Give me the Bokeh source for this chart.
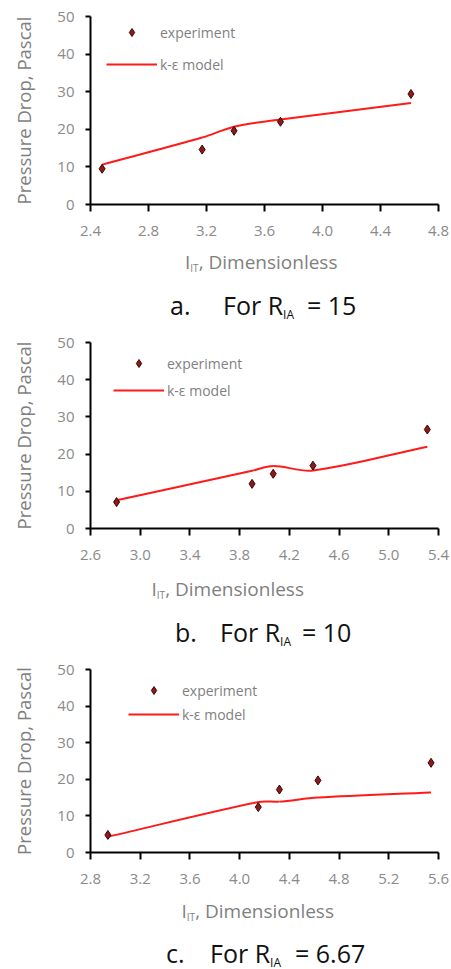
from bokeh.plotting import figure
from bokeh.layouts import column
from bokeh.models import (Legend, LegendItem, FixedTicker, Div,
                          PrintfTickFormatter, Range1d)
from bokeh.embed import file_html
from bokeh.resources import INLINE

# ---------------- data ----------------
x_a = [2.48, 3.17, 3.39, 3.71, 4.61]
exp_a = [9.5, 14.6, 19.6, 22.0, 29.4]
model_a = [10.6, 17.8, 20.7, 22.6, 27.0]
xticks_a = [2.4, 2.8, 3.2, 3.6, 4.0, 4.4, 4.8]

x_b = [2.81, 3.90, 4.07, 4.39, 5.31]
exp_b = [7.1, 12.0, 14.7, 16.9, 26.6]
model_b = [7.6, 15.5, 16.8, 15.6, 22.0]
xticks_b = [2.6, 3.0, 3.4, 3.8, 4.2, 4.6, 5.0, 5.4]

x_c = [2.94, 4.15, 4.32, 4.63, 5.54]
exp_c = [4.8, 12.4, 17.2, 19.7, 24.5]
model_c = [4.3, 13.8, 13.9, 15.0, 16.4]
xticks_c = [2.8, 3.2, 3.6, 4.0, 4.4, 4.8, 5.2, 5.6]

yticks = [0, 10, 20, 30, 40, 50]
letters = ["a.", "b.", "c."]
ratios = ["15", "10", "6.67"]
legend_labels = ["experiment", "k-\u03b5 model"]
y_title = "Pressure Drop, Pascal"
x_title_html = "I<sub>IT</sub>, Dimensionless"
caption_html = "For R<sub>IA</sub>"

# ---------------- layout / style ----------------
W, H = 451, 323          # each panel block
L, R = 90, 438           # shared frame left / right (column aligns frames)
BOT = 42                 # room for x tick labels under each frame
FONT = "Open Sans"
GREY = "#7f7f7f"
panels = [
    dict(x=x_a, e=exp_a, m=model_a, t=xticks_a, T=16, B=204,
         xt=(185, 270), cap=(170, 223, 307, 315), leg=(106, 32, 32)),
    dict(x=x_b, e=exp_b, m=model_b, t=xticks_b, T=19, B=205,
         xt=(151.5, 274), cap=(175, 220, 302, 319), leg=(113, 40, 27)),
    dict(x=x_c, e=exp_c, m=model_c, t=xticks_c, T=23, B=206,
         xt=(181.5, 273), cap=(166, 210, 295, 317), leg=(128, 44, 24)),
]


def smooth_bezier(xs, ys):
    """Cubic Hermite (in x) pieces as Bezier control points: a smoothed line
    drawn through the given model points."""
    n = len(xs)
    slopes = []
    for i in range(n):
        i0, i1 = max(i - 1, 0), min(i + 1, n - 1)
        slopes.append((ys[i1] - ys[i0]) / (xs[i1] - xs[i0]))
    out = {k: [] for k in ("x0", "y0", "x1", "y1", "cx0", "cy0", "cx1", "cy1")}
    for i in range(n - 1):
        d = (xs[i + 1] - xs[i]) / 3
        out["x0"].append(xs[i]); out["y0"].append(ys[i])
        out["x1"].append(xs[i + 1]); out["y1"].append(ys[i + 1])
        out["cx0"].append(xs[i] + d)
        out["cy0"].append(ys[i] + slopes[i] * d)
        out["cx1"].append(xs[i + 1] - d)
        out["cy1"].append(ys[i + 1] - slopes[i + 1] * d)
    return out


def span(x, baseline, html, size, color):
    top = baseline - 0.888 * size
    return (f'<span style="position:absolute;left:{x}px;top:{top:.1f}px;'
            f"font-family:'{FONT}';font-size:{size}px;line-height:1;"
            f'color:{color};white-space:nowrap">{html}</span>')


items = []
for k, cfg in enumerate(panels):
    Hp = cfg["B"] + BOT
    p = figure(width=W, height=Hp, output_backend="svg", toolbar_location=None,
               x_range=Range1d(cfg["t"][0], cfg["t"][-1]),
               y_range=Range1d(0, 50),
               min_border_left=L, min_border_right=W - R,
               min_border_top=cfg["T"], min_border_bottom=BOT)
    p.outline_line_color = None
    p.grid.visible = False
    p.background_fill_color = "white"
    p.border_fill_color = "white"

    p.xaxis.ticker = FixedTicker(ticks=cfg["t"])
    p.yaxis.ticker = FixedTicker(ticks=yticks)
    p.xaxis.formatter = PrintfTickFormatter(format="%.1f")
    for ax in (p.xaxis, p.yaxis):
        ax.axis_line_width = 2
        ax.axis_line_color = "black"
        ax.major_tick_line_width = 2
        ax.major_tick_line_color = "black"
        ax.major_tick_in = 0
        ax.minor_tick_out = 0
        ax.minor_tick_in = 0
        ax.major_label_text_font = FONT
        ax.major_label_text_font_size = "15px"
        ax.major_label_text_color = "#8a8a8a"
    p.xaxis.major_tick_out = 7
    p.yaxis.major_tick_out = 5
    p.xaxis.major_label_standoff = 14
    p.yaxis.major_label_standoff = 11
    p.yaxis.axis_label = y_title
    p.yaxis.axis_label_text_font = FONT
    p.yaxis.axis_label_text_font_size = "18.5px"
    p.yaxis.axis_label_text_font_style = "normal"
    p.yaxis.axis_label_text_color = GREY
    p.yaxis.axis_label_standoff = 18

    bz = smooth_bezier(cfg["x"], cfg["m"])
    r_model = p.bezier(line_color="#ff1a1a", line_width=2, **bz)
    r_exp = p.scatter(cfg["x"], cfg["e"], marker="diamond", size=9,
                      fill_color="#8b1a1a", line_color="#3d0505",
                      line_width=1)

    gl, r1y, gap = cfg["leg"]
    row_h = 20
    top = r1y - row_h // 2
    bottom = top + row_h + gap
    leg = Legend(items=[LegendItem(label=legend_labels[0], renderers=[r_exp]),
                        LegendItem(label=legend_labels[1], renderers=[r_model])],
                 location=(gl - L, cfg["B"] - bottom),
                 glyph_width=51, glyph_height=row_h, label_height=row_h,
                 label_standoff=3, padding=0, margin=0, spacing=gap - row_h,
                 border_line_color=None, background_fill_alpha=0,
                 label_text_font=FONT, label_text_font_size="14px",
                 label_text_color=GREY)
    p.add_layout(leg, "center")
    items.append(p)

    # text block under the plot: x title (with subscript) and caption
    Ht = H - Hp
    xi, xb = cfg["xt"]
    cl, cf, ce, cb = cfg["cap"]
    sub_x = '<sub style="font-size:10px;vertical-align:-3px;line-height:0">'
    sub_c = '<sub style="font-size:12px;vertical-align:-4px;line-height:0">'
    html = ('<div style="position:relative;width:%dpx;height:%dpx;'
            'background:white">' % (W, Ht))
    html += span(xi, xb - Hp, x_title_html.replace("<sub>", sub_x), 19, GREY)
    html += span(cl, cb - Hp, letters[k], 25, "#111111")
    html += span(cf, cb - Hp, caption_html.replace("<sub>", sub_c), 25, "#111111")
    html += span(ce, cb - Hp, "= " + ratios[k], 25, "#111111")
    html += "</div>"
    items.append(Div(text=html, width=W, height=Ht, margin=(0, 0, 0, 0)))

layout = column(*items, spacing=0)
open("out.html", "w").write(file_html(layout, INLINE))
